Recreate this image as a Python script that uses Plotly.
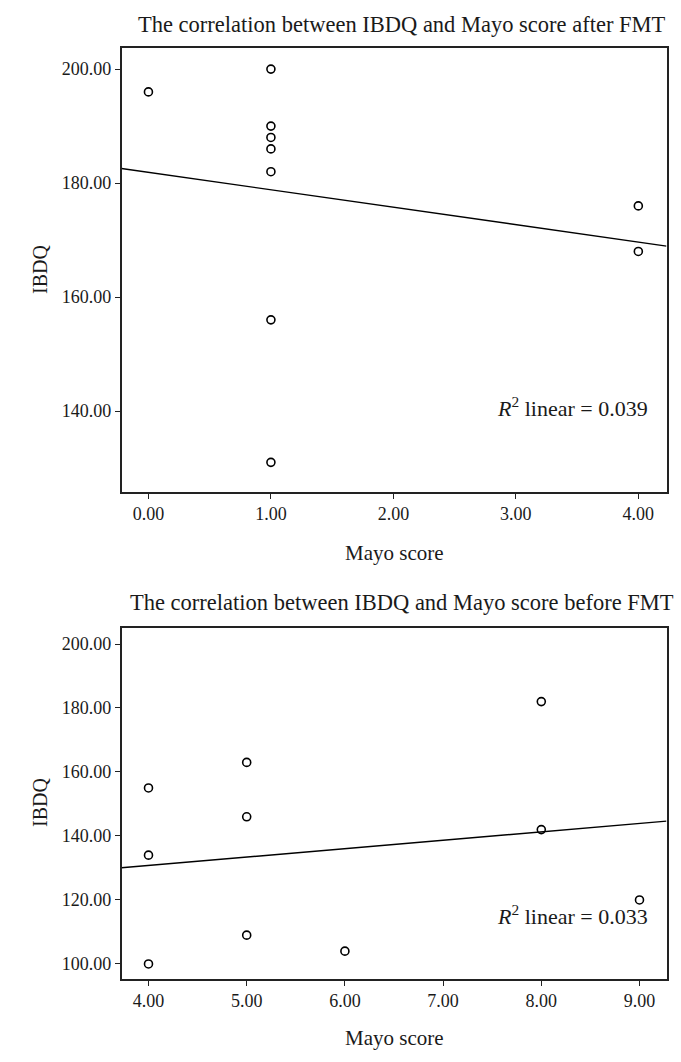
import numpy as np
import plotly.graph_objects as go

# After FMT
mayo_after = [0, 1, 1, 1, 1, 1, 1, 1, 4, 4]
ibdq_after = [196, 200, 190, 188, 186, 182, 156, 131, 176, 168]
# Before FMT
mayo_before = [4, 4, 4, 5, 5, 5, 6, 8, 8, 9]
ibdq_before = [155, 134, 100, 163, 146, 109, 104, 182, 142, 120]

titles = ["The correlation between IBDQ and Mayo score after FMT",
          "The correlation between IBDQ and Mayo score before FMT"]
r2_labels = ["0.039", "0.033"]
x_ticks_after = [0, 1, 2, 3, 4]
x_ticks_before = [4, 5, 6, 7, 8, 9]
y_ticks_after = [140, 160, 180, 200]
y_ticks_before = [100, 120, 140, 160, 180, 200]

W, H = 681, 1062
FONT = "Liberation Serif"
fig = go.Figure()

def px_x(p):
    return p / W

def px_y(p):
    return 1 - p / H

x_dom = [px_x(121.5), px_x(666.5)]
y_dom_top = [px_y(492), px_y(48)]
y_dom_bot = [px_y(979), px_y(628)]

xr_top = [-0.22, 4.23]
yr_top = [125.8, 203.7]
xr_bot = [3.725, 9.275]
yr_bot = [95.3, 205.0]

def add_panel(xs, ys, xref, yref, xr):
    fig.add_trace(go.Scatter(x=xs, y=ys, mode="markers", xaxis=xref, yaxis=yref,
                             marker=dict(symbol="circle-open", size=8,
                                         color="black", line=dict(width=1.6)),
                             showlegend=False, hoverinfo="skip"))
    b, a = np.polyfit(xs, ys, 1)
    lx = np.array(xr)
    fig.add_trace(go.Scatter(x=lx, y=a + b * lx, mode="lines", xaxis=xref, yaxis=yref,
                             line=dict(color="black", width=1.4),
                             showlegend=False, hoverinfo="skip"))

add_panel(mayo_after, ibdq_after, "x", "y", xr_top)
add_panel(mayo_before, ibdq_before, "x2", "y2", xr_bot)

axis_common = dict(showgrid=False, zeroline=False, showline=True, mirror=True,
                   linecolor="#222", linewidth=1.5, ticks="outside", ticklen=5,
                   tickwidth=1.3, tickcolor="#222",
                   tickfont=dict(family=FONT, size=18, color="#1a1a1a"))

fig.update_layout(
    width=W, height=H, margin=dict(l=0, r=0, t=0, b=0),
    paper_bgcolor="white", plot_bgcolor="white",
    xaxis=dict(domain=x_dom, range=xr_top, anchor="y", tickvals=x_ticks_after,
               ticktext=[f"{v:.2f}" for v in x_ticks_after], **axis_common),
    yaxis=dict(domain=y_dom_top, range=yr_top, anchor="x", tickvals=y_ticks_after,
               ticktext=[f"{v:.2f}" for v in y_ticks_after], **axis_common),
    xaxis2=dict(domain=x_dom, range=xr_bot, anchor="y2", tickvals=x_ticks_before,
                ticktext=[f"{v:.2f}" for v in x_ticks_before], **axis_common),
    yaxis2=dict(domain=y_dom_bot, range=yr_bot, anchor="x2", tickvals=y_ticks_before,
                ticktext=[f"{v:.2f}" for v in y_ticks_before], **axis_common),
)

def ann(text, x, y, size=21, xanchor="center", angle=0):
    fig.add_annotation(text=text, x=px_x(x), y=px_y(y), xref="paper", yref="paper",
                       showarrow=False, xanchor=xanchor, yanchor="middle",
                       textangle=angle, font=dict(family=FONT, size=size, color="#1a1a1a"))

ann(titles[0], 402, 24, size=22.5)
ann(titles[1], 402, 602, size=22.5)
ann("Mayo score", 394, 553)
ann("Mayo score", 394, 1038)
ann("IBDQ", 40, 270, angle=-90, size=20)
ann("IBDQ", 40, 803, angle=-90, size=20)
ann(f"<i>R</i><sup>2</sup> linear = {r2_labels[0]}", 650, 407, size=22, xanchor="right")
ann(f"<i>R</i><sup>2</sup> linear = {r2_labels[1]}", 650, 915, size=22, xanchor="right")

fig.write_html("out.html", config={"displayModeBar": False},
               post_script="document.body.style.margin='0';document.body.style.overflow='hidden';")
